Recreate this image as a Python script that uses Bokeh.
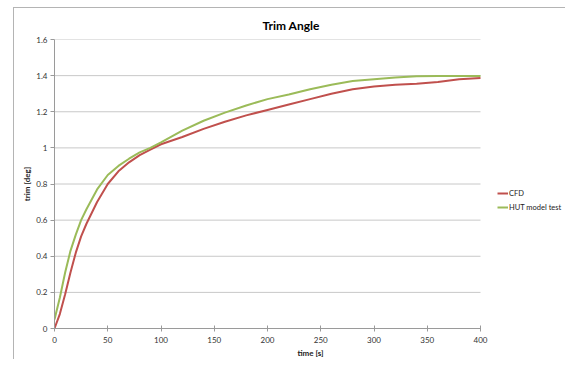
from bokeh.plotting import figure
from bokeh.models import Range1d, Legend, LegendItem, FixedTicker
from bokeh.embed import file_html
from bokeh.resources import INLINE

# Data
time_cfd = [0, 5, 10, 15, 20, 25, 30, 40, 50, 60, 70, 80, 90, 100, 120, 140, 160,
            180, 200, 220, 240, 260, 280, 300, 320, 340, 360, 380, 400]
trim_cfd = [0.0, 0.08, 0.19, 0.31, 0.42, 0.51, 0.58, 0.70, 0.80, 0.87, 0.92, 0.96,
            0.99, 1.02, 1.06, 1.105, 1.145, 1.18, 1.21, 1.24, 1.27, 1.30, 1.325,
            1.34, 1.35, 1.355, 1.365, 1.38, 1.387]

time_hut = [0, 5, 10, 15, 20, 25, 30, 40, 50, 60, 70, 80, 90, 100, 120, 140, 160,
            180, 200, 220, 240, 260, 280, 300, 320, 340, 360, 380, 400]
trim_hut = [0.05, 0.17, 0.31, 0.43, 0.52, 0.60, 0.66, 0.77, 0.85, 0.90, 0.94, 0.975,
            1.0, 1.03, 1.095, 1.15, 1.195, 1.235, 1.27, 1.295, 1.325, 1.35, 1.37,
            1.38, 1.39, 1.397, 1.398, 1.398, 1.398]

x_ticks = [0, 50, 100, 150, 200, 250, 300, 350, 400]
y_ticks = [0, 0.2, 0.4, 0.6, 0.8, 1.0, 1.2, 1.4, 1.6]
y_tick_labels = {0: "0", 0.2: "0.2", 0.4: "0.4", 0.6: "0.6", 0.8: "0.8", 1: "1",
                 1.2: "1.2", 1.4: "1.4", 1.6: "1.6"}

FONT = "Lato"

# layout: the data area (0..400) spans 426 px; the frame continues to the right
# so the legend can sit beside the data area
FIG_W, BORDER_L = 552, 40
FRAME_W = FIG_W - BORDER_L
DATA_W = 426
x_end = x_ticks[-1] * FRAME_W / DATA_W

p = figure(width=FIG_W, height=352, output_backend="svg", toolbar_location=None,
           x_range=Range1d(x_ticks[0], x_end), y_range=Range1d(y_ticks[0], y_ticks[-1]),
           min_border_left=BORDER_L, min_border_right=0, min_border_top=31,
           min_border_bottom=30)
p.styles = {"margin-left": "13px", "margin-top": "7px",
            "border-left": "1px solid #b4b4b4", "border-top": "1px solid #b4b4b4"}

p.title.text = "Trim Angle"
p.title.text_font = FONT
p.title.text_font_size = "12px"
p.title.text_font_style = "bold"
p.title.align = "left"
p.title.offset = 208
p.title.standoff = 14
p.title.text_color = "#000000"

p.outline_line_color = None
p.background_fill_color = "white"
p.border_fill_color = "white"

p.xgrid.grid_line_color = None
p.ygrid.grid_line_color = None
# horizontal gridlines over the data area only
p.segment(x0=x_ticks[0], x1=x_ticks[-1], y0=y_ticks[1:], y1=y_ticks[1:],
          line_color="#c8c8c8", line_width=1)

for ax in (p.xaxis[0], p.yaxis[0]):
    ax.axis_line_color = "#9a9a9a"
    ax.major_tick_line_color = "#9a9a9a"
    ax.minor_tick_line_color = None
    ax.major_label_text_font = FONT
    ax.major_label_text_font_size = "8px"
    ax.major_label_text_color = "#333333"
    ax.axis_label_text_font = FONT
    ax.axis_label_text_font_size = "8px"
    ax.axis_label_text_font_style = "bold"
    ax.axis_label_text_color = "#222222"

p.xaxis[0].ticker = FixedTicker(ticks=x_ticks)
p.xaxis[0].bounds = (x_ticks[0], x_ticks[-1])
p.xaxis[0].major_tick_in = 3
p.xaxis[0].major_tick_out = 3
p.xaxis[0].major_label_standoff = 5
p.xaxis[0].axis_label = "time [s]"
p.xaxis[0].axis_label_standoff = 2

p.yaxis[0].ticker = FixedTicker(ticks=y_ticks)
p.yaxis[0].major_label_overrides = y_tick_labels
p.yaxis[0].major_tick_in = 0
p.yaxis[0].major_tick_out = 4
p.yaxis[0].major_label_standoff = 3
p.yaxis[0].axis_label = "trim [deg]"
p.yaxis[0].axis_label_standoff = 1

r_cfd = p.line(time_cfd, trim_cfd, line_color="#c0504d", line_width=2)
r_hut = p.line(time_hut, trim_hut, line_color="#9bbb59", line_width=2)

legend = Legend(items=[LegendItem(label="CFD", renderers=[r_cfd]),
                       LegendItem(label="HUT model test", renderers=[r_hut])],
                location=(443, 116))
legend.label_text_font = FONT
legend.label_text_font_size = "7.5px"
legend.label_text_color = "#222222"
legend.glyph_width = 11
legend.glyph_height = 10
legend.label_height = 10
legend.label_standoff = 1
legend.spacing = 4
legend.padding = 0
legend.margin = 0
legend.border_line_color = None
legend.background_fill_alpha = 0
p.add_layout(legend)

open("out.html", "w").write(file_html(p, INLINE))
